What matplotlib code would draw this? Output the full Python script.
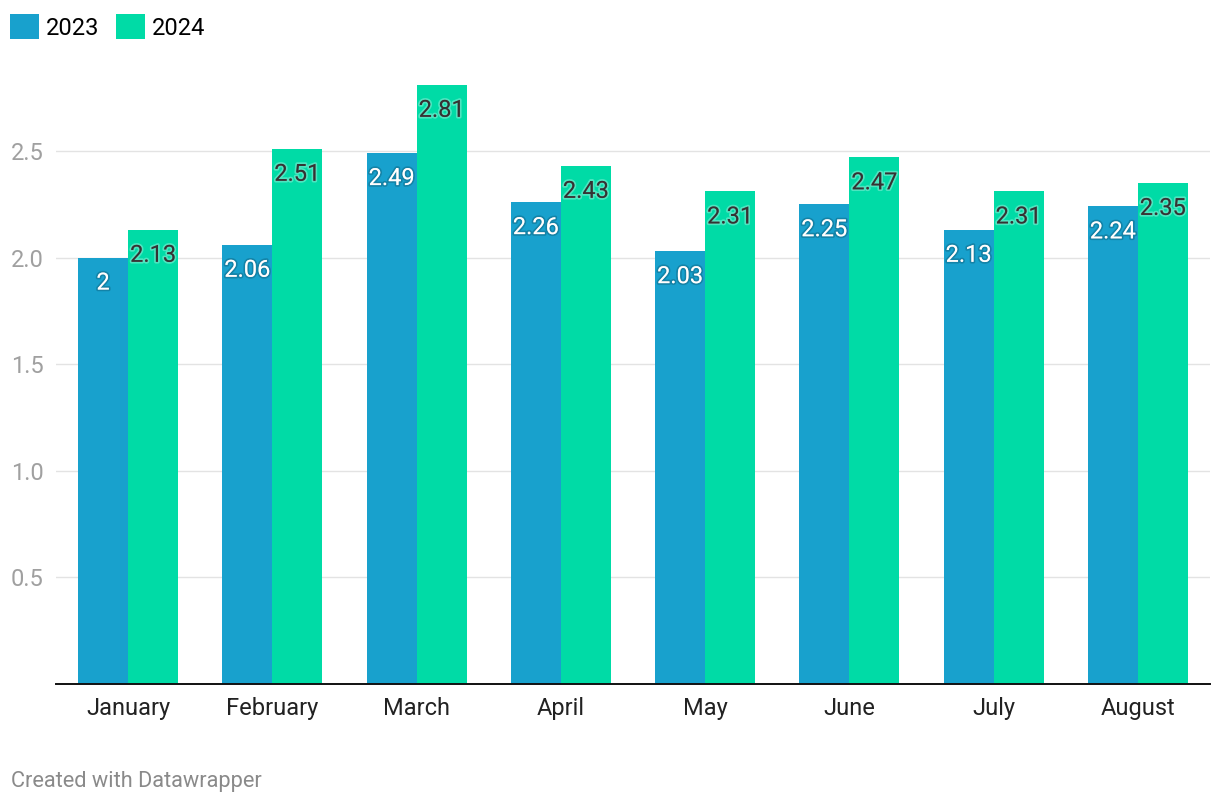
import matplotlib
matplotlib.use("Agg")
import matplotlib.pyplot as plt
import matplotlib.patheffects as pe
import numpy as np

plt.rcParams['font.family'] = ['Roboto', 'DejaVu Sans']

months = ['January', 'February', 'March', 'April', 'May', 'June', 'July', 'August']
vals_2023 = [2.00, 2.06, 2.49, 2.26, 2.03, 2.25, 2.13, 2.24]
labels_2023 = ['2', '2.06', '2.49', '2.26', '2.03', '2.25', '2.13', '2.24']
vals_2024 = [2.13, 2.51, 2.81, 2.43, 2.31, 2.47, 2.31, 2.35]
labels_2024 = ['2.13', '2.51', '2.81', '2.43', '2.31', '2.47', '2.31', '2.35']
yticks = [0.5, 1.0, 1.5, 2.0, 2.5]

c23 = '#18a1cd'
c24 = '#00dba6'

fig = plt.figure(figsize=(12.2, 8.06), dpi=100)
ax = fig.add_axes([56/1220, 122/806, 1154/1220, 618.3/806])

x = np.arange(len(months))
w = 0.3465
b1 = ax.bar(x - w/2, vals_2023, w, color=c23, label='2023', zorder=2)
b2 = ax.bar(x + w/2, vals_2024, w, color=c24, label='2024', zorder=2)

# value labels inside the bar tops
for xi, v, t in zip(x - w/2, vals_2023, labels_2023):
    ax.annotate(t, (xi, v), xytext=(0, -23), textcoords='offset points',
                ha='center', va='baseline', fontsize=17, color='white', zorder=3,
                path_effects=[pe.withStroke(linewidth=2.5, foreground=(0, 0, 0, 0.18))])
for xi, v, t in zip(x + w/2, vals_2024, labels_2024):
    ax.annotate(t, (xi, v), xytext=(0, -23), textcoords='offset points',
                ha='center', va='baseline', fontsize=17, color='#333333', zorder=3,
                path_effects=[pe.withStroke(linewidth=2.5, foreground=(1, 1, 1, 0.3))])

ax.set_xlim(-0.5, len(months) - 0.5)
ax.set_ylim(0, 2.9)
ax.set_xticks(x)
ax.set_xticklabels(months, fontsize=17, color='#222222')
ax.set_yticks(yticks)
ax.set_yticklabels([f'{t:.1f}' for t in yticks], fontsize=17, color='#a0a0a0')
ax.tick_params(axis='both', length=0)
ax.tick_params(axis='x', pad=9.5)
ax.tick_params(axis='y', pad=9)
ax.grid(axis='y', color='#e3e3e3', linewidth=1.0, zorder=0)
ax.set_axisbelow(True)
for s in ['top', 'right', 'left']:
    ax.spines[s].set_visible(False)
ax.spines['bottom'].set_color('#111111')
ax.spines['bottom'].set_linewidth(1.4)
ax.spines['bottom'].set_zorder(4)

fig.legend(handles=[b1, b2], labels=['2023', '2024'], loc='upper left',
           bbox_to_anchor=(1/1220, 1 - 5/806), ncol=2, frameon=False,
           fontsize=17, handlelength=1.2, handleheight=1.2,
           handletextpad=0.3, columnspacing=0.72, borderaxespad=0)

fig.text(11/1220, 1 - 781/806, 'Created with Datawrapper', fontsize=15.7,
         color='#8a8a8a', va='center', ha='left')

fig.savefig('out.png', dpi=100)
